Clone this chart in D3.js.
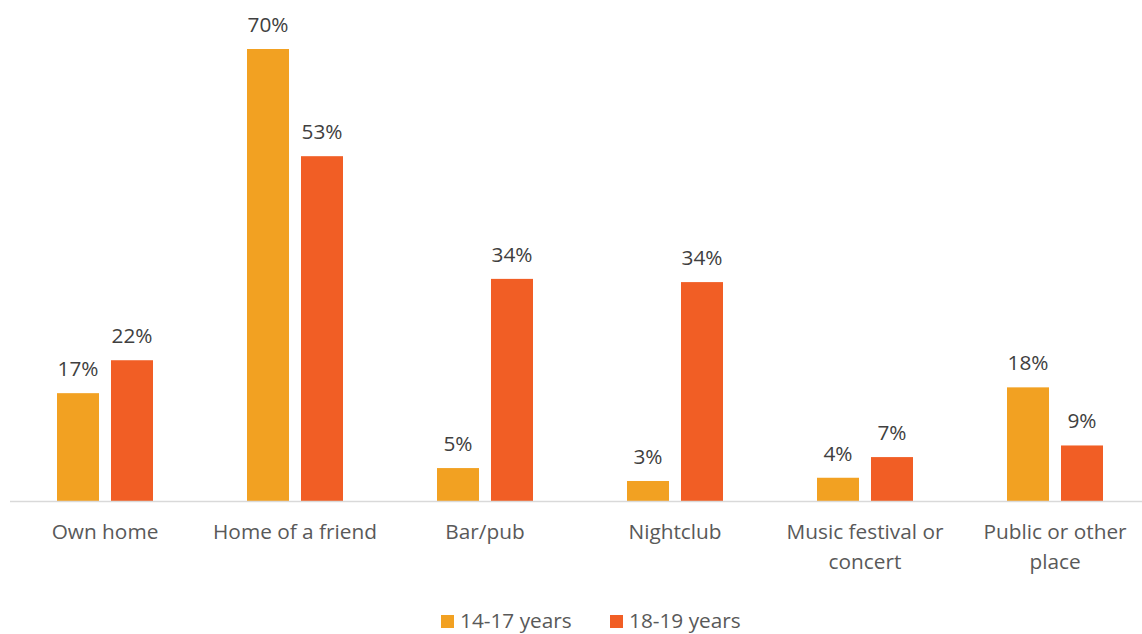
<!DOCTYPE html>
<html>
<head>
<meta charset="utf-8">
<script src="https://cdn.jsdelivr.net/npm/d3@7"></script>
<style>
  body { margin: 0; background: #fff; }
  svg { display: block; font-family: "Open Sans", sans-serif; }
</style>
</head>
<body>
<svg id="chart"></svg>
<script>
var categories = ["Own home", "Home of a friend", "Bar/pub", "Nightclub", "Music festival or concert", "Public or other place"];
var seriesNames = ["14-17 years", "18-19 years"];
var young = [16.7, 70, 5.1, 3.1, 3.6, 17.6];   // 14-17 years
var older = [21.8, 53.4, 34.4, 33.9, 6.8, 8.6]; // 18-19 years
var colors = ["#F2A122", "#F15E25"];

var width = 1142, height = 634;
var baseY = 501;
var fontSize = 20.8;

var svg = d3.select("#chart").attr("width", width).attr("height", height);

var x0 = d3.scaleBand().domain(categories).range([10, 1150]).paddingInner(0).paddingOuter(0);
var x1 = d3.scaleBand().domain(seriesNames).range([-48, 48]).paddingInner(0.222);
var y = d3.scaleLinear().domain([0, 70]).range([baseY, 49]);

var rows = categories.map(function(c, i) {
    return { cat: c, vals: [young[i], older[i]] };
});

var groups = svg.selectAll("g.cat")
    .data(rows)
  .enter().append("g")
    .attr("class", "cat")
    .attr("transform", function(d) { return "translate(" + (x0(d.cat) + x0.bandwidth() / 2) + ",0)"; });

groups.selectAll("rect")
    .data(function(d) { return d.vals.map(function(v, j) { return { v: v, s: seriesNames[j], j: j }; }); })
  .enter().append("rect")
    .attr("x", function(d) { return x1(d.s); })
    .attr("width", x1.bandwidth())
    .attr("y", function(d) { return y(d.v); })
    .attr("height", function(d) { return baseY - y(d.v); })
    .attr("fill", function(d) { return colors[d.j]; });

groups.selectAll("text.val")
    .data(function(d) { return d.vals.map(function(v, j) { return { v: v, s: seriesNames[j] }; }); })
  .enter().append("text")
    .attr("class", "val")
    .attr("x", function(d) { return x1(d.s) + x1.bandwidth() / 2; })
    .attr("y", function(d) { return y(d.v) - 17; })
    .attr("text-anchor", "middle")
    .attr("font-size", fontSize)
    .attr("fill", "#404040")
    .text(function(d) { return Math.round(d.v) + "%"; });

// baseline
svg.append("line")
    .attr("x1", 10).attr("x2", width)
    .attr("y1", baseY + 0.5).attr("y2", baseY + 0.5)
    .attr("stroke", "#D9D9D9").attr("stroke-width", 1.5);

// category labels, wrapped like the original
var catText = groups.append("text")
    .attr("text-anchor", "middle")
    .attr("font-size", fontSize)
    .attr("fill", "#595959")
    .attr("y", baseY + 38);

catText.each(function(d) {
    var t = d3.select(this);
    var words = d.cat.split(" ");
    var line = [], lines = [];
    var probe = t.append("tspan");
    words.forEach(function(w) {
        line.push(w);
        probe.text(line.join(" "));
        if (probe.node().getComputedTextLength() > 182 && line.length > 1) {
            line.pop();
            lines.push(line.join(" "));
            line = [w];
        }
    });
    lines.push(line.join(" "));
    probe.remove();
    lines.forEach(function(l, k) {
        t.append("tspan").attr("x", 0).attr("dy", k === 0 ? 0 : 30).text(l);
    });
});

// legend
var legendX = [441, 610];
var legend = svg.selectAll("g.legend")
    .data(seriesNames)
  .enter().append("g")
    .attr("class", "legend")
    .attr("transform", function(d, i) { return "translate(" + legendX[i] + ",615)"; });

legend.append("rect")
    .attr("width", 13).attr("height", 13)
    .attr("fill", function(d, i) { return colors[i]; });

legend.append("text")
    .attr("x", 19).attr("y", 13)
    .attr("font-size", fontSize)
    .attr("fill", "#595959")
    .text(function(d) { return d; });
</script>
</body>
</html>
